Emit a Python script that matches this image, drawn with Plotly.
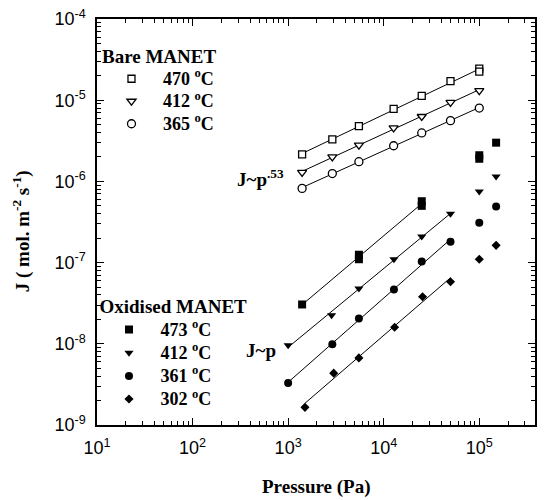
import numpy as np
import plotly.graph_objects as go

# ---------------- data ----------------
bare_p = [1.4e3, 2.9e3, 5.5e3, 1.27e4, 2.5e4, 5.0e4, 1.0e5]
bare_470_p = [1.4e3, 2.9e3, 5.5e3, 1.27e4, 2.5e4, 5.0e4, 1.0e5, 1.0e5]
bare_470 = [2.15e-6, 3.3e-6, 4.8e-6, 7.8e-6, 1.13e-5, 1.72e-5, 2.45e-5, 2.25e-5]
bare_412 = [1.29e-6, 2.0e-6, 2.8e-6, 4.55e-6, 6.3e-6, 9.4e-6, 1.31e-5]
bare_365 = [8.2e-7, 1.25e-6, 1.75e-6, 2.75e-6, 3.95e-6, 5.6e-6, 8.0e-6]

ox_473_p = [1.4e3, 5.5e3, 5.5e3, 2.5e4, 2.5e4, 1.0e5, 1.0e5, 1.5e5]
ox_473 = [3.05e-8, 1.1e-7, 1.25e-7, 5.0e-7, 5.7e-7, 1.9e-6, 2.1e-6, 3.0e-6]
ox_412_p = [1.0e3, 2.85e3, 5.5e3, 1.28e4, 2.5e4, 5.0e4, 1.0e5, 1.5e5]
ox_412 = [9.6e-9, 2.25e-8, 4.8e-8, 1.1e-7, 2.1e-7, 4.0e-7, 7.5e-7, 1.15e-6]
ox_361_p = [1.0e3, 2.9e3, 5.5e3, 1.28e4, 2.5e4, 5.0e4, 1.0e5, 1.5e5]
ox_361 = [3.3e-9, 9.9e-9, 2.05e-8, 4.65e-8, 1.03e-7, 1.8e-7, 3.1e-7, 4.9e-7]
ox_302_p = [1.5e3, 3.0e3, 5.5e3, 1.3e4, 2.55e4, 5.0e4, 1.0e5, 1.5e5]
ox_302 = [1.65e-9, 4.35e-9, 6.7e-9, 1.6e-8, 3.8e-8, 5.8e-8, 1.1e-7, 1.63e-7]

# number of points (from the start) used for each fitted line
fit_n_473, fit_n_412, fit_n_361, fit_n_302 = 5, 6, 6, 6

bare_names = ["470 <sup>o</sup>C", "412 <sup>o</sup>C", "365 <sup>o</sup>C"]
ox_names = ["473 <sup>o</sup>C", "412 <sup>o</sup>C", "361 <sup>o</sup>C", "302 <sup>o</sup>C"]

x_tickvals = [1e1, 1e2, 1e3, 1e4, 1e5]
x_ticktext = ["10<sup>1</sup>", "10<sup>2</sup>", "10<sup>3</sup>", "10<sup>4</sup>", "10<sup>5</sup>"]
y_tickvals = [1e-9, 1e-8, 1e-7, 1e-6, 1e-5, 1e-4]
y_ticktext = ["10<sup>-9</sup>", "10<sup>-8</sup>", "10<sup>-7</sup>", "10<sup>-6</sup>",
              "10<sup>-5</sup>", "10<sup>-4</sup>"]

SERIF = "Liberation Serif"
SANS = "Liberation Sans"

fig = go.Figure()


def fit_line(p, j, n):
    lp = np.log10(p[:n])
    lj = np.log10(j[:n])
    a, b = np.polyfit(lp, lj, 1)
    xs = np.array([lp.min(), lp.max()])
    return 10 ** xs, 10 ** (a * xs + b)


for p, j, n in [(bare_470_p, bare_470, 8), (bare_p, bare_412, 7), (bare_p, bare_365, 7),
                (ox_473_p, ox_473, fit_n_473), (ox_412_p, ox_412, fit_n_412),
                (ox_361_p, ox_361, fit_n_361), (ox_302_p, ox_302, fit_n_302)]:
    fx, fy = fit_line(p, j, n)
    fig.add_trace(go.Scatter(x=fx, y=fy, mode="lines", line=dict(color="black", width=1),
                             showlegend=False, hoverinfo="skip"))


def open_marker(sym, size):
    return dict(symbol=sym, size=size, color="white", line=dict(color="black", width=1.3))


def filled_marker(sym, size):
    return dict(symbol=sym, size=size, color="black", line=dict(color="black", width=0))


def big(t):
    return '<span style="font-size:18px">' + t + '</span>'


fig.add_trace(go.Scatter(x=bare_470_p, y=bare_470, mode="markers", name=big(bare_names[0]),
                         marker=open_marker("square", 7), legend="legend"))
fig.add_trace(go.Scatter(x=bare_p, y=bare_412, mode="markers", name=big(bare_names[1]),
                         marker=open_marker("triangle-down", 8), legend="legend"))
fig.add_trace(go.Scatter(x=bare_p, y=bare_365, mode="markers", name=big(bare_names[2]),
                         marker=open_marker("circle", 8), legend="legend"))

fig.add_trace(go.Scatter(x=ox_473_p, y=ox_473, mode="markers", name=big(ox_names[0]),
                         marker=filled_marker("square", 8), legend="legend2"))
fig.add_trace(go.Scatter(x=ox_412_p, y=ox_412, mode="markers", name=big(ox_names[1]),
                         marker=filled_marker("triangle-down", 8), legend="legend2"))
fig.add_trace(go.Scatter(x=ox_361_p, y=ox_361, mode="markers", name=big(ox_names[2]),
                         marker=filled_marker("circle", 8), legend="legend2"))
fig.add_trace(go.Scatter(x=ox_302_p, y=ox_302, mode="markers", name=big(ox_names[3]),
                         marker=filled_marker("diamond", 7), legend="legend2"))

x_minor = [m * 10 ** k for k in range(1, 6) for m in range(2, 10) if m * 10 ** k < 4e5]
y_minor = [m * 10.0 ** k for k in range(-9, -4) for m in range(2, 10)]

# plot area in pixels: x 97..537, y 15..425
L, R, T, B = 97, 7, 15, 75
W, H = 544, 500
PW, PH = W - L - R, H - T - B


def px(xp):
    return (xp - L) / PW


def py(yp):
    return (H - B - yp) / PH


axis_common = dict(type="log", showgrid=False, zeroline=False, showline=True,
                   linecolor="black", linewidth=1.5, mirror="allticks",
                   ticks="inside", ticklen=7, tickwidth=1, tickcolor="black",
                   tickmode="array", tickfont=dict(family=SANS, size=18, color="black"))

fig.update_layout(
    width=W, height=H,
    margin=dict(l=L, r=R, t=T, b=B, pad=0),
    paper_bgcolor="white", plot_bgcolor="white",
    xaxis=dict(axis_common, range=[1, 5.583], tickvals=x_tickvals, ticktext=x_ticktext,
               minor=dict(ticks="inside", ticklen=4, tickwidth=1, tickcolor="black",
                          tickmode="array", tickvals=x_minor, showgrid=False),
               ticklabelstandoff=6),
    yaxis=dict(axis_common, range=[-9, -4], tickvals=y_tickvals, ticktext=y_ticktext,
               minor=dict(ticks="inside", ticklen=4, tickwidth=1, tickcolor="black",
                          tickmode="array", tickvals=y_minor, showgrid=False),
               ticklabelstandoff=6),
    legend=dict(x=px(100), y=py(34), xanchor="left", yanchor="top",
                bgcolor="rgba(0,0,0,0)", itemwidth=53, tracegroupgap=0,
                font=dict(family=SERIF, size=15, color="black", weight="bold"),
                title=dict(text="Bare MANET", font=dict(family=SERIF, size=19, color="black",
                                                        weight="bold"))),
    legend2=dict(x=px(97.5), y=py(287), xanchor="left", yanchor="top",
                 bgcolor="rgba(0,0,0,0)", itemwidth=53, tracegroupgap=0,
                 font=dict(family=SERIF, size=15.5, color="black", weight="bold"),
                 title=dict(text="Oxidised MANET", font=dict(family=SERIF, size=19, color="black",
                                                             weight="bold"))),
    showlegend=True,
)

ann_font = dict(family=SERIF, size=19, color="black", weight="bold")
fig.add_annotation(xref="paper", yref="paper", x=px(236), y=py(176), xanchor="left",
                   yanchor="middle", text="J~p<sup>.53</sup>", showarrow=False, font=ann_font)
fig.add_annotation(xref="paper", yref="paper", x=px(245), y=py(350), xanchor="left",
                   yanchor="middle", text="J~p", showarrow=False, font=ann_font)
fig.add_annotation(xref="paper", yref="paper", x=0.5, y=py(488), xanchor="center",
                   yanchor="middle", text="Pressure (Pa)", showarrow=False, font=ann_font)
fig.add_annotation(xref="paper", yref="paper", x=px(22), y=py(229), xanchor="center",
                   yanchor="middle", text="J ( mol. m<sup>-2</sup> s<sup>-1</sup>)",
                   textangle=-90, showarrow=False, font=ann_font)

fig.write_html("out.html")
